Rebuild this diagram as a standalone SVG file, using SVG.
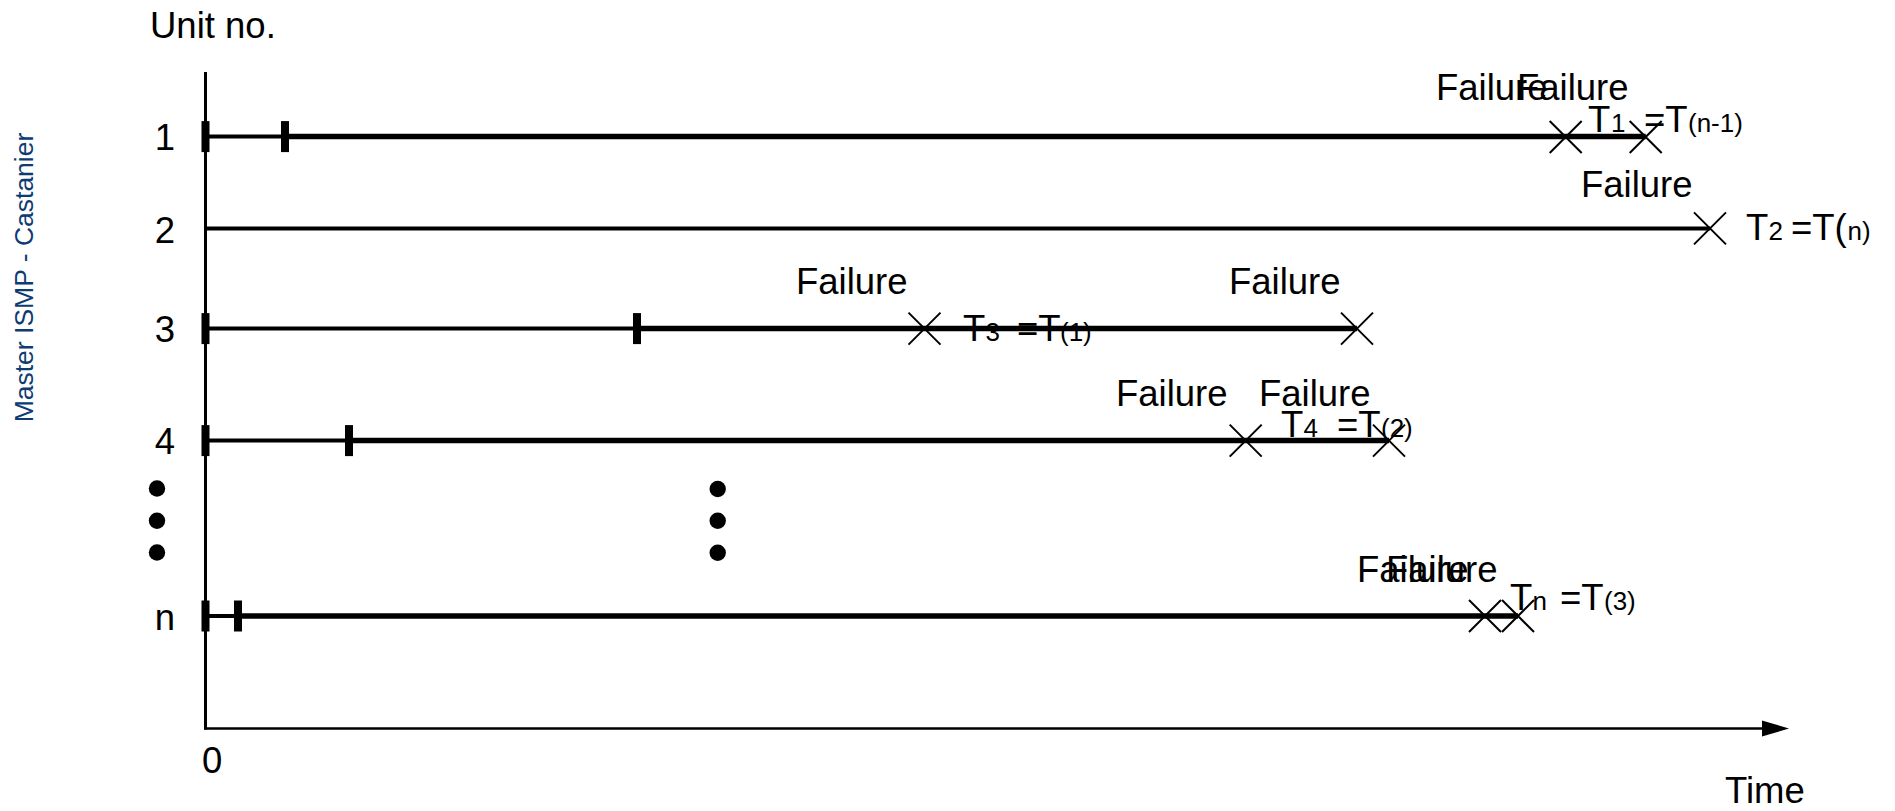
<svg xmlns="http://www.w3.org/2000/svg" xmlns:xlink="http://www.w3.org/1999/xlink" width="1895" height="811" viewBox="0 0 1895 811">
  <style>
    text { font-family: "Liberation Sans", Arial, sans-serif; fill: #000; }
    .lbl { font-size: 36.5px; }
    .sub { font-size: 26px; }
    .side { font-size: 26.5px; fill: #0E3B72; }
    .axis { stroke: #000; fill: none; }
    .thin { stroke: #000; stroke-width: 4; }
    .thick { stroke: #000; stroke-width: 5.5; }
    .mid { stroke: #000; stroke-width: 4; }
    .cross { stroke: #000; stroke-width: 2; fill: none; }
    .tick { fill: #000; }
  </style>
  <defs>
    <path id="x-mark" class="cross" d="M-16,-16 L16,16 M-16,16 L16,-16"/>
    <rect id="tick-mark" class="tick" x="-4" y="-15.5" width="8" height="31"/>
  </defs>

  <rect width="1895" height="811" fill="#fff"/>

  <!-- side caption -->
  <text class="side" transform="translate(33,277.5) rotate(-90)" text-anchor="middle">Master ISMP - Castanier</text>

  <!-- axes -->
  <g id="axes">
    <line class="axis" x1="205.5" y1="72" x2="205.5" y2="729.5" stroke-width="3"/>
    <line class="axis" x1="204" y1="728.5" x2="1765" y2="728.5" stroke-width="2.5"/>
    <polygon points="1762,720.5 1789,728.5 1762,736.5" fill="#000"/>
    <text class="lbl" x="150" y="38">Unit no.</text>
    <text class="lbl" x="202" y="773">0</text>
    <text class="lbl" x="1725" y="803">Time</text>
  </g>

  <!-- unit 1 -->
  <g id="unit-1">
    <text class="lbl" x="165" y="150" text-anchor="middle">1</text>
    <line class="thin" x1="205.5" y1="136.6" x2="285" y2="136.6"/>
    <line class="thick" x1="285" y1="136.6" x2="1645.7" y2="136.6"/>
    <use xlink:href="#tick-mark" x="205.5" y="136.6"/>
    <use xlink:href="#tick-mark" x="285" y="136.6"/>
    <use xlink:href="#x-mark" x="1565.7" y="137"/>
    <use xlink:href="#x-mark" x="1645.7" y="137"/>
    <text class="lbl" x="1436" y="100">Failure</text>
    <text class="lbl" x="1517" y="100">Failure</text>
    <text class="lbl" y="131.5"><tspan x="1588">T</tspan><tspan class="sub" x="1611">1</tspan><tspan x="1644">=T</tspan><tspan class="sub" x="1688">(n-1)</tspan></text>
  </g>

  <!-- unit 2 -->
  <g id="unit-2">
    <text class="lbl" x="165" y="243" text-anchor="middle">2</text>
    <line class="mid" x1="205.5" y1="228.4" x2="1710" y2="228.4"/>
    <use xlink:href="#x-mark" x="1710" y="228.4"/>
    <text class="lbl" x="1581" y="197">Failure</text>
    <text class="lbl" y="240"><tspan x="1746">T</tspan><tspan class="sub" x="1768.6">2</tspan><tspan x="1791">=T(</tspan><tspan class="sub" x="1847.5">n)</tspan></text>
  </g>

  <!-- unit 3 -->
  <g id="unit-3">
    <text class="lbl" x="165" y="342" text-anchor="middle">3</text>
    <line class="thin" x1="205.5" y1="328.6" x2="637" y2="328.6"/>
    <line class="thick" x1="637" y1="328.6" x2="1357" y2="328.6"/>
    <use xlink:href="#tick-mark" x="205.5" y="328.6"/>
    <use xlink:href="#tick-mark" x="637" y="328.6"/>
    <use xlink:href="#x-mark" x="924.5" y="328.6"/>
    <use xlink:href="#x-mark" x="1357" y="328.6"/>
    <text class="lbl" x="796" y="294">Failure</text>
    <text class="lbl" x="1229" y="294">Failure</text>
    <text class="lbl" y="341"><tspan x="963">T</tspan><tspan class="sub" x="985.6">3</tspan><tspan x="1017">=T</tspan><tspan class="sub" x="1060">(1)</tspan></text>
  </g>

  <!-- unit 4 -->
  <g id="unit-4">
    <text class="lbl" x="165" y="454" text-anchor="middle">4</text>
    <line class="thin" x1="205.5" y1="440.6" x2="349" y2="440.6"/>
    <line class="thick" x1="349" y1="440.6" x2="1389" y2="440.6"/>
    <use xlink:href="#tick-mark" x="205.5" y="440.6"/>
    <use xlink:href="#tick-mark" x="349" y="440.6"/>
    <use xlink:href="#x-mark" x="1245.7" y="440.6"/>
    <use xlink:href="#x-mark" x="1389" y="440.6"/>
    <text class="lbl" x="1116" y="406">Failure</text>
    <text class="lbl" x="1259" y="406">Failure</text>
    <text class="lbl" y="436.5"><tspan x="1281">T</tspan><tspan class="sub" x="1303.6">4</tspan><tspan x="1337">=T</tspan><tspan class="sub" x="1381">(2)</tspan></text>
  </g>

  <!-- ellipsis between unit 4 and unit n -->
  <g id="ellipsis">
    <circle cx="157" cy="488.5" r="8.2"/>
    <circle cx="157" cy="520.7" r="8.2"/>
    <circle cx="157" cy="552.5" r="8.2"/>
    <circle cx="717.7" cy="489" r="8.2"/>
    <circle cx="717.7" cy="520.7" r="8.2"/>
    <circle cx="717.7" cy="552.7" r="8.2"/>
  </g>

  <!-- unit n -->
  <g id="unit-n">
    <text class="lbl" x="165" y="630" text-anchor="middle">n</text>
    <line class="thin" x1="205.5" y1="616" x2="238" y2="616"/>
    <line class="thick" x1="238" y1="616" x2="1518" y2="616"/>
    <use xlink:href="#tick-mark" x="205.5" y="616"/>
    <use xlink:href="#tick-mark" x="238" y="616"/>
    <use xlink:href="#x-mark" x="1485" y="616"/>
    <use xlink:href="#x-mark" x="1518" y="616"/>
    <text class="lbl" x="1357" y="582">Failure</text>
    <text class="lbl" x="1386" y="582">Failure</text>
    <text class="lbl" y="610"><tspan x="1510">T</tspan><tspan class="sub" x="1532.6">n</tspan><tspan x="1560">=T</tspan><tspan class="sub" x="1604">(3)</tspan></text>
  </g>
</svg>
